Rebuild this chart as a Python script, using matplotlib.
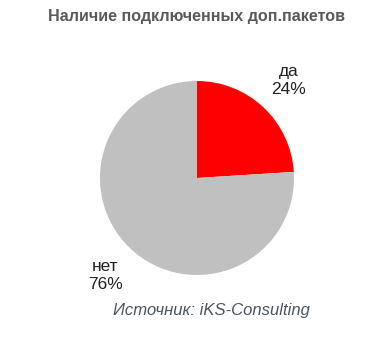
import matplotlib
matplotlib.use("Agg")
import matplotlib.pyplot as plt

plt.rcParams['font.family'] = ['Liberation Sans', 'DejaVu Sans']

# данные
labels = ["да", "нет"]
shares = [24, 76]
colors = ["#ff0000", "#c0c0c0"]

W, H = 367, 359
fig = plt.figure(figsize=(W / 100, H / 100), dpi=100)

# оси под круг: центр (197,178), радиус 97 пикселей
ax = fig.add_axes([100 / W, 84 / H, 194 / W, 194 / H])
texts = ax.pie(shares, colors=colors, startangle=90, counterclock=False,
               labels=[f"{l}\n{s}%" for l, s in zip(labels, shares)],
               labeldistance=1.38, radius=1,
               textprops=dict(fontsize=12.5, color="#222222", ha="center",
                              va="center", linespacing=1.25),
               wedgeprops=dict(linewidth=0))[1]
for t in texts:
    t.set_ha("center")
ax.set_xlim(-1, 1)
ax.set_ylim(-1, 1)
ax.set_aspect("equal")
ax.axis("off")

fig.text(197 / W, 1 - 16 / H, "Наличие подключенных доп.пакетов",
         ha="center", va="center", fontsize=11.6, fontweight="bold", color="#595959")
fig.text(211 / W, 1 - 311 / H, "Источник: iKS-Consulting",
         ha="center", va="center", fontsize=12, style="italic", color="#4a5563")

fig.savefig("out.png", dpi=100)
